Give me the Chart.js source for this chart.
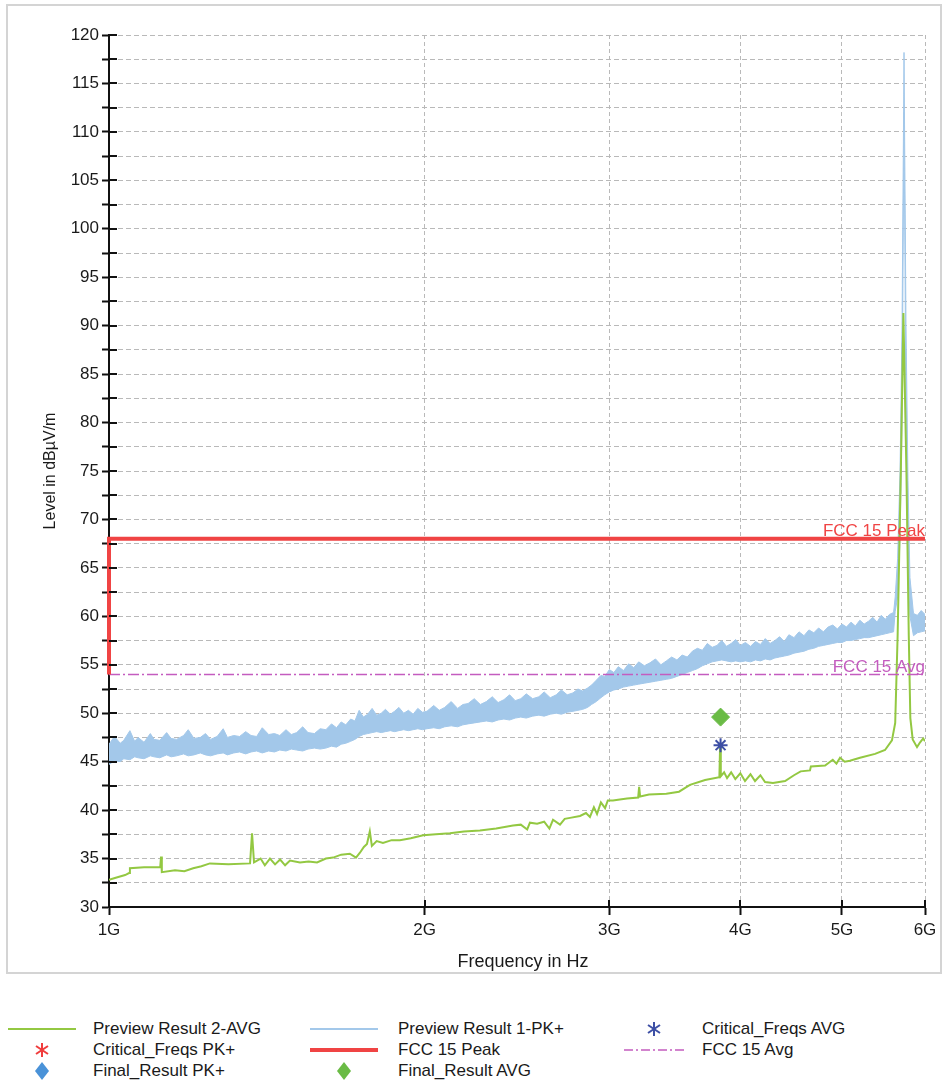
<!DOCTYPE html>
<html>
<head>
<meta charset="utf-8">
<title>Radiated emission 1G - 6G</title>
<script src="https://cdn.jsdelivr.net/npm/chart.js@4.4.1/dist/chart.umd.min.js"></script>
<style>
  body { margin: 0; background: #fff; font-family: "Liberation Sans", Arial, sans-serif; }
  #wrap { position: relative; width: 946px; height: 1082px; overflow: hidden; }
  #frame { position: absolute; left: 6px; top: 4px; width: 932px; height: 966px; border: 2px solid #d4d4d4; }
  #chart { position: absolute; left: 0; top: 0; }
  .lg-sym { position: absolute; width: 80px; height: 20px; }
  .lg-txt { position: absolute; font-size: 17px; color: #1a1a1a; line-height: 20px; white-space: nowrap; }
</style>
</head>
<body>
<div id="wrap">
  <div id="frame"></div>
  <canvas id="chart" width="946" height="980"></canvas>
  <div id="legend"></div>
</div>
<script>
// Frequencies in MHz, levels in dBµV/m

// Preview Result 1-PK+ (noise band: lower / upper edge)
const pkFreq = [
  1000, 1012, 1025, 1033, 1047, 1058, 1066, 1080, 1095, 1104,
  1118, 1135, 1146, 1160, 1178, 1190, 1205, 1222, 1236, 1250,
  1268, 1285, 1297, 1315, 1332, 1350, 1366, 1383, 1400, 1420,
  1438, 1455, 1475, 1492, 1510, 1530, 1548, 1570, 1590,
  1610, 1630, 1648, 1665, 1682, 1700, 1716, 1732, 1748, 1765,
  1782, 1800, 1818, 1835, 1855, 1872, 1890, 1910, 1930, 1950,
  1970, 1990,
  2010, 2040, 2065, 2090, 2120, 2150, 2175, 2200, 2230, 2260,
  2290, 2320, 2350, 2380, 2410, 2440, 2470, 2500, 2535, 2570,
  2600, 2635, 2670, 2700, 2735, 2770, 2800, 2830, 2860, 2885,
  2915, 2945, 2970, 3000, 3030, 3060, 3095, 3130, 3165, 3200,
  3240, 3280, 3320, 3360, 3400, 3440, 3480, 3520, 3560, 3600,
  3640, 3680, 3720, 3760, 3800, 3840, 3880, 3920, 3960, 4000,
  4045, 4090, 4135, 4180, 4225, 4270, 4315, 4360, 4405,
  4450, 4500, 4550, 4600, 4650, 4700, 4750, 4800, 4850, 4900,
  4950, 5000, 5050, 5100, 5150, 5200, 5250, 5300, 5350, 5400,
  5450, 5500, 5550, 5600,
  5620, 5650, 5680, 5705, 5730, 5755, 5780, 5805, 5850, 5900,
  5950, 6000
];
const pkLow = [
  44.7, 45.1, 45.0, 45.3, 45.2, 45.5, 45.4, 45.3, 45.6, 45.5,
  45.4, 45.7, 45.5, 45.6, 45.8, 45.6, 45.7, 45.9, 45.7, 45.6,
  45.8, 45.9, 45.7, 45.9, 46.0, 45.8, 46.0, 46.1, 45.9, 46.1,
  46.0, 46.2, 46.1, 46.3, 46.2, 46.1, 46.3, 46.4, 46.3,
  46.4, 46.6, 46.5, 46.8, 46.9, 47.1, 47.3, 47.6, 47.8, 47.9,
  48.0, 48.1, 48.0, 48.1, 48.2, 48.1, 48.2, 48.3, 48.2, 48.3,
  48.4, 48.3,
  48.4, 48.5, 48.4, 48.6, 48.7, 48.6, 48.8, 48.9, 49.0, 49.1,
  49.2, 49.1, 49.3, 49.4, 49.3, 49.5, 49.6, 49.5, 49.7, 49.8,
  49.7, 49.9, 50.0, 49.9, 50.1, 50.2, 50.3, 50.4, 50.6, 50.9,
  51.2, 51.6, 51.9, 52.2, 52.4, 52.5, 52.7, 52.8, 52.9, 53.0,
  53.1, 53.2, 53.3, 53.4, 53.5, 53.6, 53.8, 54.0, 54.2, 54.4,
  54.6, 54.9, 55.1, 55.3, 55.4, 55.5, 55.4, 55.3, 55.4, 55.3,
  55.4, 55.3, 55.5, 55.4, 55.6, 55.5, 55.7, 55.8, 55.9,
  56.0, 56.2, 56.3, 56.4, 56.6, 56.7, 56.9, 57.0, 57.1, 57.2,
  57.3, 57.3, 57.5, 57.5, 57.6, 57.7, 57.8, 57.8, 57.9, 58.0,
  58.1, 58.2, 58.3, 58.4,
  60.5, 62.0, 68.0, 80.0, 112.0, 80.0, 66.0, 60.0, 58.0, 58.3,
  58.4, 58.5
];
const pkHigh = [
  46.8, 47.6, 46.9, 47.2, 48.2, 47.1, 47.5, 47.0, 47.9, 47.3,
  47.2, 48.0, 47.4, 47.3, 47.7, 48.3, 47.4, 47.5, 47.9, 47.3,
  47.6, 48.4, 47.5, 47.7, 47.6, 48.1, 47.7, 47.6, 48.5, 47.8,
  47.9, 47.7, 48.3, 47.8, 48.0, 48.6, 48.0, 47.9, 48.4,
  48.3, 48.9, 48.5, 49.1, 48.8, 49.4, 49.2, 50.3, 49.6, 49.9,
  50.5, 49.8, 50.0, 50.4, 49.9, 50.2, 50.6, 50.0, 50.3, 49.9,
  50.5, 50.1,
  50.2, 50.8, 50.3, 50.6, 51.2, 50.5, 50.9, 51.0, 51.5, 50.9,
  51.2, 51.7, 51.1, 51.4, 51.9, 51.3, 51.5, 52.0, 51.5, 51.7,
  52.2, 51.6, 51.9, 52.4, 51.9, 52.1, 52.5, 52.3, 52.6, 52.9,
  53.4, 53.9, 53.8, 54.5, 54.2, 54.8, 54.4, 55.1, 54.7, 55.3,
  54.9, 55.2, 55.6, 55.0, 55.4, 55.8, 55.5, 56.0, 55.8, 56.4,
  56.7, 56.5, 57.2, 56.8, 57.0, 57.5, 56.9, 57.2, 57.6, 57.0,
  57.3, 56.9, 57.4, 57.1, 57.7, 57.2, 57.5, 57.9, 57.4,
  58.1, 57.8, 58.4, 58.0, 58.6, 58.3, 58.8, 58.4, 58.9, 59.1,
  58.7, 59.2, 58.9, 59.4, 59.0, 59.6, 59.2, 59.5, 59.9, 59.4,
  60.1, 59.7, 60.2, 60.4,
  62.0, 66.0, 75.0, 90.0, 118.2, 90.0, 74.0, 64.0, 60.3, 60.1,
  60.6, 60.2
];

// Preview Result 2-AVG
const avgFreq = [
  1000, 1013, 1036, 1045, 1047, 1080, 1119, 1121, 1123, 1156,
  1180, 1203, 1225, 1248, 1300, 1363, 1369, 1375, 1395, 1408,
  1424, 1440, 1456, 1472, 1488, 1521, 1550, 1579, 1610, 1636,
  1665, 1697, 1720, 1735, 1750, 1762, 1773, 1781, 1800, 1825,
  1860, 1894, 1940, 1993, 2050, 2114, 2180, 2258, 2340, 2428,
  2470, 2505, 2520, 2560, 2600, 2630, 2651, 2692, 2720, 2752,
  2813, 2850, 2875, 2900, 2920, 2945, 2972, 2990, 3024, 3070,
  3119, 3196, 3203, 3210, 3273, 3400, 3496, 3581, 3702, 3820,
  3826, 3832, 3860, 3885, 3920, 3956, 4000, 4041, 4090, 4131,
  4180, 4223, 4297, 4413, 4500, 4566, 4661, 4670, 4818, 4900,
  4940, 4979, 5030, 5088, 5202, 5377, 5496, 5580, 5620, 5650,
  5690, 5722, 5760, 5790, 5810, 5840, 5896, 5936, 5976, 6000
];
const avgLevel = [
  32.8, 33.0, 33.3, 33.5, 34.0, 34.1, 34.1, 35.2, 33.6, 33.8,
  33.7, 34.0, 34.2, 34.5, 34.4, 34.5, 37.6, 34.6, 35.0, 34.3,
  35.0, 34.4, 34.9, 34.3, 34.8, 34.6, 34.7, 34.6, 35.0, 35.1,
  35.4, 35.5, 35.1, 35.6, 36.2, 36.5, 37.8, 36.3, 36.8, 36.6,
  36.9, 36.9, 37.1, 37.4, 37.5, 37.6, 37.8, 37.9, 38.1, 38.4,
  38.5, 38.0, 38.7, 38.6, 38.8, 38.1, 39.0, 38.5, 39.1, 39.2,
  39.4, 39.7, 39.3, 40.3, 39.6, 40.8, 40.2, 41.0, 41.0, 41.1,
  41.2, 41.3, 42.4, 41.4, 41.6, 41.7, 41.9, 42.6, 43.1, 43.4,
  46.6, 43.5, 43.9, 43.3, 43.9, 43.2, 43.8, 43.0, 43.7, 43.0,
  43.6, 42.9, 42.8, 43.0, 43.6, 44.0, 44.1, 44.5, 44.6, 45.2,
  44.8, 45.4, 45.0, 45.1, 45.4, 45.8, 46.2, 47.2, 49.0, 58.0,
  75.0, 91.3, 75.0, 58.0, 49.5, 47.3, 46.5, 47.0, 47.4, 47.1
];

// Limits
const fccPeakFreq = [1000, 1000, 6000];
const fccPeakLevel = [54, 68, 68];
const fccAvgFreq = [1000, 6000];
const fccAvgLevel = [54, 54];

// Markers
const criticalAvgFreq = [3830];
const criticalAvgLevel = [46.7];
const finalAvgFreq = [3830];
const finalAvgLevel = [49.6];

// Axes
const xTickValues = [1000, 2000, 3000, 4000, 5000, 6000];
const xTickLabels = ['1G', '2G', '3G', '4G', '5G', '6G'];
const yMin = 30;
const yMax = 120;

const FONT = '"Liberation Sans", Arial, sans-serif';
const pkColor = '#a3c8ea';
const avgColor = '#93c842';
const peakColor = '#f04444';
const avgLimitColor = '#c45cbf';
const starColor = '#3d4fa5';
const diamondGreen = '#6abb45';
const diamondBlue = '#4a92d8';
const redStar = '#f03c3c';

function pts(xs, ys) {
    return xs.map((f, i) => ({ x: f, y: ys[i] }));
}

// Crossing tick marks, limit labels and axis titles
const decorations = {
    id: 'decorations',
    afterDraw(chart) {
        const { ctx, chartArea: a, scales: { x, y } } = chart;
        ctx.save();
        ctx.strokeStyle = '#111';
        ctx.lineWidth = 2;
        ctx.beginPath();
        y.ticks.forEach(t => {
            const py = Math.round(y.getPixelForValue(t.value));
            ctx.moveTo(a.left, py);
            ctx.lineTo(a.left + 8, py);
        });
        x.ticks.forEach(t => {
            const px = Math.round(x.getPixelForValue(t.value));
            ctx.moveTo(px, a.bottom);
            ctx.lineTo(px, a.bottom - 7);
        });
        ctx.stroke();

        ctx.font = '17px ' + FONT;
        ctx.textAlign = 'right';
        ctx.textBaseline = 'alphabetic';
        ctx.fillStyle = peakColor;
        ctx.fillText('FCC 15 Peak', a.right, y.getPixelForValue(fccPeakLevel[1]) - 3);
        ctx.fillStyle = avgLimitColor;
        ctx.fillText('FCC 15 Avg', a.right, y.getPixelForValue(fccAvgLevel[0]) - 2);

        ctx.fillStyle = '#1a1a1a';
        ctx.textAlign = 'center';
        ctx.textBaseline = 'middle';
        ctx.font = '18px ' + FONT;
        ctx.fillText('Frequency in Hz', (a.left + a.right) / 2 + 6, 962);
        ctx.translate(51, (a.top + a.bottom) / 2);
        ctx.rotate(-Math.PI / 2);
        ctx.font = '16px ' + FONT;
        ctx.fillText('Level in dBµV/m', 0, 0);
        ctx.restore();
    }
};

const chart = new Chart(document.getElementById('chart'), {
    type: 'line',
    data: {
        datasets: [
            {
                label: 'Preview Result 1-PK+',
                data: pts(pkFreq, pkHigh),
                borderColor: pkColor,
                borderWidth: 1,
                pointRadius: 0,
                fill: { target: '+1', above: pkColor, below: pkColor },
                order: 6
            },
            {
                label: 'PK+ lower',
                data: pts(pkFreq, pkLow),
                borderColor: pkColor,
                borderWidth: 1,
                pointRadius: 0,
                fill: false,
                order: 6
            },
            {
                label: 'Preview Result 2-AVG',
                data: pts(avgFreq, avgLevel),
                borderColor: avgColor,
                borderWidth: 2,
                pointRadius: 0,
                fill: false,
                order: 5
            },
            {
                label: 'FCC 15 Peak',
                data: pts(fccPeakFreq, fccPeakLevel),
                borderColor: peakColor,
                borderWidth: 4,
                pointRadius: 0,
                fill: false,
                clip: 5,
                order: 3
            },
            {
                label: 'FCC 15 Avg',
                data: pts(fccAvgFreq, fccAvgLevel),
                borderColor: avgLimitColor,
                borderWidth: 1.5,
                borderDash: [11, 3, 2, 3],
                pointRadius: 0,
                fill: false,
                order: 3
            },
            {
                label: 'Critical_Freqs AVG',
                data: pts(criticalAvgFreq, criticalAvgLevel),
                showLine: false,
                pointStyle: 'star',
                pointRadius: 7,
                borderColor: starColor,
                borderWidth: 2,
                order: 1
            },
            {
                label: 'Final_Result AVG',
                data: pts(finalAvgFreq, finalAvgLevel),
                showLine: false,
                pointStyle: 'rectRot',
                pointRadius: 9,
                backgroundColor: diamondGreen,
                borderColor: diamondGreen,
                borderWidth: 1,
                order: 0
            }
        ]
    },
    options: {
        responsive: false,
        animation: false,
        devicePixelRatio: 1,
        layout: { padding: { top: 35, right: 21, left: 0, bottom: 0 } },
        plugins: { legend: { display: false }, tooltip: { enabled: false } },
        elements: { line: { tension: 0 } },
        scales: {
            x: {
                type: 'logarithmic',
                min: xTickValues[0],
                max: xTickValues[xTickValues.length - 1],
                afterBuildTicks: s => { s.ticks = xTickValues.map(v => ({ value: v })); },
                afterFit: s => { s.height = 73; },
                ticks: {
                    callback: (v, i) => xTickLabels[i],
                    autoSkip: false,
                    maxRotation: 0,
                    padding: 5,
                    color: '#1a1a1a',
                    font: { size: 17, family: FONT }
                },
                grid: { color: '#b9b9b9', lineWidth: 1, tickLength: 8, tickColor: '#111', tickWidth: 2 },
                border: { color: '#111', width: 2, dash: [4, 3] }
            },
            y: {
                min: yMin,
                max: yMax,
                afterFit: s => { s.width = 109; },
                ticks: {
                    stepSize: 2.5,
                    autoSkip: false,
                    callback: v => (v % 5 === 0 ? v : ''),
                    padding: 3,
                    color: '#1a1a1a',
                    font: { size: 17, family: FONT }
                },
                grid: { color: '#b9b9b9', lineWidth: 1, tickLength: 7, tickColor: '#111', tickWidth: 2 },
                border: { color: '#111', width: 2, dash: [5, 3] }
            }
        }
    },
    plugins: [decorations]
});

// Legend below the chart, three columns
const legendItems = [
    { text: 'Preview Result 2-AVG', kind: 'line', color: avgColor, width: 2, col: 0, row: 0 },
    { text: 'Preview Result 1-PK+', kind: 'line', color: pkColor, width: 2, col: 1, row: 0 },
    { text: 'Critical_Freqs AVG', kind: 'star', color: starColor, col: 2, row: 0 },
    { text: 'Critical_Freqs PK+', kind: 'star', color: redStar, col: 0, row: 1 },
    { text: 'FCC 15 Peak', kind: 'line', color: peakColor, width: 4, col: 1, row: 1 },
    { text: 'FCC 15 Avg', kind: 'dash', color: avgLimitColor, width: 1.5, col: 2, row: 1 },
    { text: 'Final_Result PK+', kind: 'diamond', color: diamondBlue, col: 0, row: 2 },
    { text: 'Final_Result AVG', kind: 'diamond', color: diamondGreen, col: 1, row: 2 }
];
const colSym = [42, 344, 654];
const colText = [93, 398, 702];
const rowY = [1029, 1050, 1071];

function symbolSvg(it) {
    let inner = '';
    if (it.kind === 'line') {
        inner = `<line x1="6" y1="10" x2="74" y2="10" stroke="${it.color}" stroke-width="${it.width}"/>`;
    } else if (it.kind === 'dash') {
        inner = `<line x1="10" y1="10" x2="71" y2="10" stroke="${it.color}" stroke-width="${it.width}" stroke-dasharray="9 3 2 3"/>`;
    } else if (it.kind === 'star') {
        inner = `<g stroke="${it.color}" stroke-width="2">
          <line x1="40" y1="3" x2="40" y2="17"/><line x1="34" y1="6" x2="46" y2="14"/><line x1="34" y1="14" x2="46" y2="6"/></g>`;
    } else if (it.kind === 'diamond') {
        inner = `<polygon points="40,1 47,10 40,19 33,10" fill="${it.color}"/>`;
    }
    return `<svg width="80" height="20">${inner}</svg>`;
}

const legendEl = document.getElementById('legend');
legendItems.forEach(it => {
    const sym = document.createElement('div');
    sym.className = 'lg-sym';
    sym.style.left = (colSym[it.col] - 40) + 'px';
    sym.style.top = (rowY[it.row] - 10) + 'px';
    sym.innerHTML = symbolSvg(it);
    legendEl.appendChild(sym);

    const txt = document.createElement('div');
    txt.className = 'lg-txt';
    txt.style.left = colText[it.col] + 'px';
    txt.style.top = (rowY[it.row] - 10) + 'px';
    txt.textContent = it.text;
    legendEl.appendChild(txt);
});
</script>
</body>
</html>
